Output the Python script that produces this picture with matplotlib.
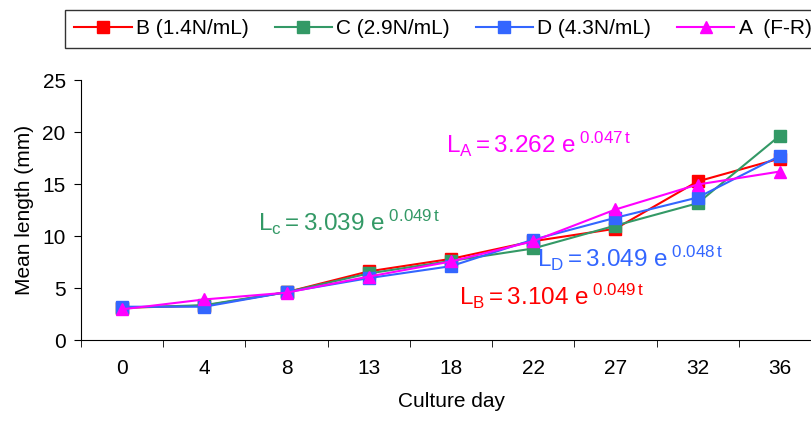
import matplotlib
matplotlib.use("Agg")
import matplotlib.pyplot as plt
import numpy as np

plt.rcParams["font.family"] = ["Liberation Sans", "DejaVu Sans"]
plt.rcParams["mathtext.fontset"] = "custom"
plt.rcParams["mathtext.rm"] = "Liberation Sans"
plt.rcParams["mathtext.it"] = "Liberation Sans"

days = ["0", "4", "8", "13", "18", "22", "27", "32", "36"]
series_b = [3.1, 3.3, 4.6, 6.6, 7.8, 9.5, 10.7, 15.25, 17.45]
series_c = [3.1, 3.35, 4.6, 6.4, 7.6, 8.8, 11.0, 13.15, 19.65]
series_d = [3.2, 3.2, 4.6, 5.95, 7.1, 9.65, 11.75, 13.7, 17.7]
series_a = [2.95, 3.9, 4.55, 6.1, 7.55, 9.5, 12.55, 14.95, 16.2]
labels = ["B (1.4N/mL)", "C (2.9N/mL)", "D (4.3N/mL)", "A  (F-R)"]
colors = ["#FF0000", "#339966", "#3366FF", "#FF00FF"]
markers = ["s", "s", "s", "^"]

fig = plt.figure(figsize=(8.11, 4.25), dpi=100)
ax = fig.add_axes([81 / 811, 85 / 425, 740 / 811, 260 / 425])

x = np.arange(len(days))
for vals, lab, col, mk in zip([series_b, series_c, series_d, series_a], labels, colors, markers):
    ax.plot(x, vals, color=col, marker=mk, markersize=8 if mk == "s" else 9,
            linewidth=1.5, label=lab, clip_on=False)

ax.set_xlim(-0.5, len(days) - 0.5)
ax.set_ylim(0, 25)
ax.set_yticks(range(0, 26, 5))
ax.set_xticks(x)
ax.set_xticklabels(days)
ax.set_xticks(np.arange(-0.5, len(days)), minor=True)
ax.tick_params(axis="x", which="major", length=0, pad=14, labelsize=15)
ax.tick_params(axis="x", which="minor", length=5, direction="out")
ax.tick_params(axis="y", length=5, direction="out", labelsize=15, pad=6)
for s in ["top", "right"]:
    ax.spines[s].set_visible(False)
ax.set_xlabel("Culture day", fontsize=15, labelpad=10)
ax.set_ylabel("Mean length (mm)", fontsize=15, labelpad=6)

fs = 17.5
fig.text(446 / 811, 1 - 153 / 425, r"$\mathregular{L_A = 3.262\ e^{\ 0.047\,t}}$",
         color=colors[3], fontsize=fs, va="baseline")
fig.text(258 / 811, 1 - 231 / 425, r"$\mathregular{L_c = 3.039\ e^{\ 0.049\,t}}$",
         color=colors[1], fontsize=fs, va="baseline")
fig.text(537 / 811, 1 - 267 / 425, r"$\mathregular{L_D = 3.049\ e^{\ 0.048\,t}}$",
         color=colors[2], fontsize=fs, va="baseline")
fig.text(459 / 811, 1 - 305 / 425, r"$\mathregular{L_B = 3.104\ e^{\ 0.049\,t}}$",
         color=colors[0], fontsize=fs, va="baseline")

leg = fig.legend(loc="upper left", bbox_to_anchor=(65 / 811, 1 - 10 / 425), ncol=4,
                 fontsize=15, frameon=True, fancybox=False, edgecolor="black",
                 handlelength=2.75, handletextpad=0.2, columnspacing=1.25,
                 borderpad=0.45, borderaxespad=0)
leg.get_frame().set_linewidth(1.0)

fig.savefig("out.png", dpi=100)
